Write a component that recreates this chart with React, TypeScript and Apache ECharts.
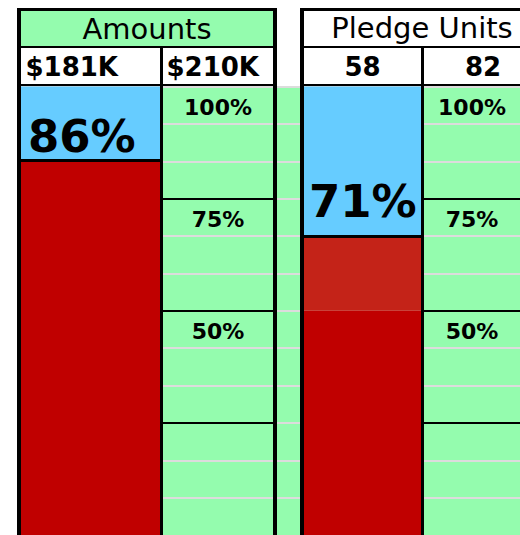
import React, { useEffect, useRef } from "react";
import * as echarts from "echarts";

// ---- data ----
const groupTitles = ["Amounts", "Pledge Units"];
const actualLabels = ["$181K", "58"];
const goalLabels = ["$210K", "82"];
const percentLabels = ["86%", "71%"];
// filled levels (percent of scale) as drawn in the picture
const darkRedLevel = [83.6, 50];
const lightRedLevel = [0, 16.7];
const blueLevel = [16.4, 33.3];
// scale labels in the goal columns
const scaleLabels = ["100%", "75%", "50%"];
const scaleBandTops = [100, 75, 50];
const bandLines = [75, 50, 25];

const GREEN = "#94FCAE";
const BLUE = "#66CCFF";
const RED = "#C00000";
const RED2 = "#C42318";
const GREY = "#DCDCDC";
const FONT = "DejaVu Sans";

const TOP = 86.5;
const H = 452;
const CELL = 100 / 12;

const cols = [
  { left: 21, width: 139, bg: false }, // actual amounts
  { left: 163, width: 110, bg: true }, // goal amounts
  { left: 277, width: 23, bg: true }, // spacer
  { left: 304, width: 117, bg: false }, // actual units
  { left: 424, width: 118, bg: true }, // goal units
];
const colCats = [actualLabels[0], goalLabels[0], "", actualLabels[1], goalLabels[1]];

function rect(x: number, y: number, w: number, h: number, fill: string, z: number) {
  return { type: "rect", shape: { x, y, width: w, height: h }, style: { fill }, z, silent: true };
}
function txt(text: string, x: number, y: number, size: number, bold: boolean, align: string) {
  return {
    type: "text",
    x,
    y,
    z: 100,
    silent: true,
    style: {
      text,
      fill: "#000",
      fontSize: size,
      fontFamily: FONT,
      fontWeight: bold ? "bold" : "normal",
      align,
      verticalAlign: "middle",
    },
  };
}

function barSeries(gi: number, idx: number, dx: number, dy: number) {
  const base = {
    type: "bar",
    xAxisIndex: gi,
    yAxisIndex: gi,
    stack: "fill" + gi,
    barWidth: "100%",
    silent: true,
  };
  return [
    { ...base, name: "dark" + gi, data: [darkRedLevel[idx]], itemStyle: { color: RED } },
    { ...base, name: "light" + gi, data: [lightRedLevel[idx]], itemStyle: { color: RED2 } },
    {
      ...base,
      name: "blue" + gi,
      data: [blueLevel[idx]],
      itemStyle: { color: BLUE },
      label: {
        show: true,
        formatter: percentLabels[idx],
        position: "insideBottomLeft",
        distance: 0,
        offset: [dx, -dy],
        color: "#000",
        fontFamily: FONT,
        fontWeight: "bold",
        fontSize: 45,
      },
      markLine: {
        silent: true,
        symbol: ["none", "none"],
        label: { show: false },
        lineStyle: { color: "#000", width: 3, type: "solid" },
        data: [{ yAxis: darkRedLevel[idx] + lightRedLevel[idx] }],
      },
    },
  ];
}

function scaleSeries(gi: number) {
  return {
    type: "scatter",
    xAxisIndex: gi,
    yAxisIndex: gi,
    symbolSize: 1,
    silent: true,
    itemStyle: { color: "rgba(0,0,0,0)", opacity: 1 },
    data: scaleLabels.map((t, i) => ({ name: t, value: [0, scaleBandTops[i] - CELL / 2] })),
    label: {
      show: true,
      position: "inside",
      formatter: "{b}",
      color: "#000",
      opacity: 1,
      fontFamily: FONT,
      fontWeight: "bold",
      fontSize: 22,
      offset: [0, 2.5],
    },
    markLine: {
      silent: true,
      symbol: ["none", "none"],
      label: { show: false },
      lineStyle: { color: "#000", width: 2, type: "solid", opacity: 1 },
      data: bandLines.map((v) => ({ yAxis: v })),
    },
  };
}

export default function App() {
  const ref = useRef<HTMLDivElement>(null);
  useEffect(() => {
    if (!ref.current) return;
    const chart = echarts.init(ref.current, null, { renderer: "svg" });
    const option = {
      animation: false,
      backgroundColor: "#fff",
      grid: cols.map((c) => ({
        left: c.left,
        top: TOP,
        width: c.width,
        height: H,
        show: c.bg,
        backgroundColor: GREEN,
        borderWidth: 0,
        containLabel: false,
      })),
      xAxis: cols.map((c, i) => ({
        gridIndex: i,
        type: "category",
        data: [colCats[i]],
        show: false,
      })),
      yAxis: cols.map((c, i) => ({
        gridIndex: i,
        type: "value",
        min: 0,
        max: 100,
        interval: CELL,
        axisLine: { show: false },
        axisTick: { show: false },
        axisLabel: { show: false },
        splitLine: {
          show: true,
          showMinLine: false,
          showMaxLine: false,
          lineStyle: { color: GREY, width: 2 },
        },
      })),
      series: [
        ...barSeries(0, 0, 7, 1),
        scaleSeries(1),
        ...barSeries(3, 1, 5, 12),
        scaleSeries(4),
      ],
      graphic: [
        rect(17, 8, 260, 545, "#000", -10),
        rect(300, 8, 250, 545, "#000", -10),
        rect(21, 11, 252, 35, GREEN, -9),
        rect(21, 48, 139, 36, "#fff", -9),
        rect(163, 48, 110, 36, "#fff", -9),
        rect(304, 11, 250, 35, "#fff", -9),
        rect(304, 48, 117, 36, "#fff", -9),
        rect(424, 48, 118, 36, "#fff", -9),
        txt(groupTitles[0], 147, 28.5, 29, false, "center"),
        txt(groupTitles[1], 422, 28, 29, false, "center"),
        txt(actualLabels[0], 25.5, 66.5, 26, true, "left"),
        txt(goalLabels[0], 166.5, 66.5, 26, true, "left"),
        txt(actualLabels[1], 362.5, 67, 26, true, "center"),
        txt(goalLabels[1], 483, 67, 26, true, "center"),
      ],
    };
    chart.setOption(option as any);
    return () => chart.dispose();
  }, []);
  return (
    <div
      ref={ref}
      style={{ position: "fixed", left: 0, top: 0, width: 520, height: 535, background: "#fff" }}
    />
  );
}
